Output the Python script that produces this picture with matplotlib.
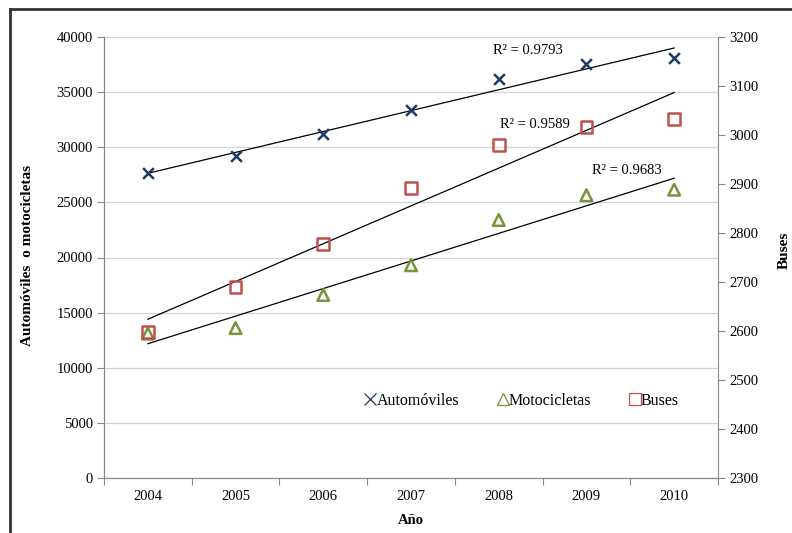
import numpy as np
import matplotlib
matplotlib.use('Agg')
import matplotlib.pyplot as plt
from matplotlib.lines import Line2D

plt.rcParams['font.family'] = ['Liberation Serif', 'DejaVu Serif']

# data
years = ['2004', '2005', '2006', '2007', '2008', '2009', '2010']
automoviles = [27650, 29200, 31200, 33350, 36200, 37550, 38100]
motocicletas = [13100, 13600, 16600, 19300, 23400, 25650, 26150]
buses = [2598, 2690, 2778, 2892, 2980, 3016, 3033]
r2_labels = ['R² = 0.9793', 'R² = 0.9589', 'R² = 0.9683']

c_auto = '#1F3B63'
c_moto = '#77933C'
c_bus = '#C0504D'
grid_c = '#D4D4D4'
spine_c = '#868686'

x = np.arange(len(years))

fig = plt.figure(figsize=(7.92, 5.33), dpi=100)
ax = fig.add_axes([104/792, 1-478/533, 614/792, 441/533])
ax2 = ax.twinx()

# trendlines (least squares fit of each series)
def trend(a, vals):
    p = np.polyfit(x, vals, 1)
    a.plot(x, np.polyval(p, x), color='black', lw=0.9, zorder=2)

trend(ax, automoviles)
trend(ax, motocicletas)
trend(ax2, buses)

ax.scatter(x, automoviles, marker='x', s=60, color=c_auto, linewidths=1.8, zorder=3)
ax.scatter(x, motocicletas, marker='^', s=70, facecolors='none', edgecolors=c_moto,
           linewidths=1.8, zorder=3)
ax2.scatter(x, buses, marker='s', s=70, facecolors='none', edgecolors=c_bus,
            linewidths=1.8, zorder=3)

ax.set_xlim(-0.5, len(years) - 0.5)
ax.set_ylim(0, 40000)
ax.set_yticks(np.arange(0, 40001, 5000))
ax2.set_ylim(2300, 3200)
ax2.set_yticks(np.arange(2300, 3201, 100))

# category axis: ticks between categories, labels centered
ax.set_xticks(np.arange(-0.5, len(years), 1))
ax.set_xticklabels([])
ax.set_xticks(x, minor=True)
ax.set_xticklabels(years, minor=True)
ax.tick_params(axis='x', which='minor', length=0, pad=9, labelsize=10.5)
ax.tick_params(axis='x', which='major', length=5, color=spine_c)
ax.tick_params(axis='y', length=5, color=spine_c, labelsize=10.5, pad=3)
ax2.tick_params(axis='y', length=5, color=spine_c, labelsize=10.5, pad=3)

ax.grid(axis='y', color=grid_c, lw=0.9)
ax.set_axisbelow(True)
for a in (ax, ax2):
    a.spines['top'].set_visible(False)
    for s in ('left', 'right', 'bottom'):
        a.spines[s].set_color(spine_c)
ax.spines['right'].set_visible(False)

# R squared labels
ax.text(3.93, 38800, r2_labels[0], fontsize=10.5, ha='left', va='center')
ax.text(4.01, 32100, r2_labels[1], fontsize=10.5, ha='left', va='center')
ax.text(5.06, 27850, r2_labels[2], fontsize=10.5, ha='left', va='center')

fig.text(411/792, 1-520/533, 'Año', fontsize=10.5, fontweight='bold',
         ha='center', va='center')
fig.text(28/792, 1-255/533, 'Automóviles  o motocicletas', rotation=90, fontsize=11,
         fontweight='bold', ha='center', va='center')
fig.text(784/792, 1-250/533, 'Buses', rotation=90, fontsize=11,
         fontweight='bold', ha='center', va='center')

handles = [Line2D([], [], ls='none', marker='x', color=c_auto, ms=8, mew=0.9),
           Line2D([], [], ls='none', marker='^', mfc='none', mec=c_moto, ms=8, mew=0.9),
           Line2D([], [], ls='none', marker='s', mfc='none', mec=c_bus, ms=8, mew=0.9)]
ax.legend(handles, ['Automóviles', 'Motocicletas', 'Buses'], ncol=3, frameon=False,
          loc='center', bbox_to_anchor=(0.68, 0.175), handlelength=0.8,
          handletextpad=0.0, columnspacing=2.3, fontsize=11.5)

# outer frame of the original picture
fig.add_artist(Line2D([10/792, 10/792], [0, 1-9/533], color='#333333', lw=2))
fig.add_artist(Line2D([10/792, 1], [1-9/533, 1-9/533], color='#333333', lw=2))

plt.savefig('out.png', dpi=100)
